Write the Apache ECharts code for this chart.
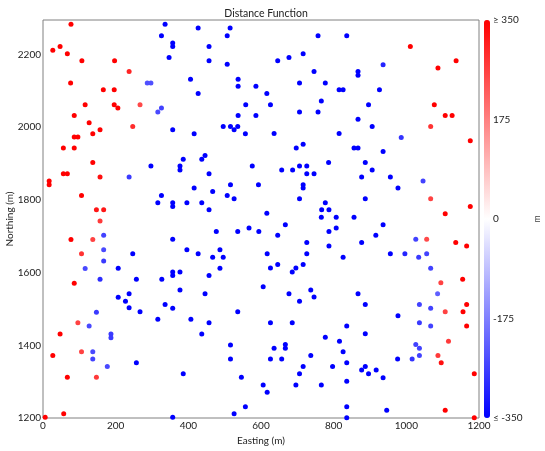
<!DOCTYPE html>
<html>
<head>
<meta charset="utf-8">
<script src="https://cdn.jsdelivr.net/npm/echarts@6/dist/echarts.min.js"></script>
<style>
  html, body { margin: 0; padding: 0; background: #fff; }
  #chart { width: 545px; height: 451px; }
</style>
</head>
<body>
<div id="chart"></div>
<script>
// sample locations (m) and distance function value (m)
const easting = [
  77, 27, 47, 67, 107, 197, 237, 76, 166, 196, 116, 196, 206, 267, 86, 127, 137, 157, 247, 86,
  96, 56, 86, 137, 56, 67, 157, 17, 17, 106, 147, 167, 157, 77, 137, 106, 86, 96, 47, 27,
  106, 67, 147, 57, 6,
  287, 297, 326, 316, 237, 167, 167, 167, 116, 157, 147, 127, 187, 187, 137, 137, 177,
  1011, 1137, 1087, 1077, 1107, 1126, 1067, 1176, 1067, 1176, 1107, 1056, 1136, 1166, 1095, 1155, 1107, 1166, 1156, 1166,
  1116, 1087, 1096, 1187, 1107, 1187,
  936, 986, 1046, 1026, 996, 1056, 1034, 1067, 1086, 1036, 1067, 1036, 1067, 1016, 1026, 1036, 1036,
  336, 427, 515, 326, 507, 357, 357, 457, 347, 457, 507, 406, 537, 427, 537, 586, 558, 537, 586, 357,
  416, 496, 516, 526, 536, 557, 386, 437, 446, 297, 377, 377, 457, 576, 416, 467, 516, 593, 507, 526,
  326, 316, 357, 357, 396, 437, 457,
  477, 536, 567, 594, 357, 396, 427, 467, 487, 496, 487, 247, 207, 257, 327, 357, 357, 377, 457, 377,
  446, 207, 227, 237, 237, 267, 336, 357, 316, 407, 457, 536, 437, 516, 516, 257, 386, 546, 557, 526,
  357,
  757, 836, 716, 646, 677, 746, 867, 867, 706, 777, 616, 815, 826, 926, 626, 766, 896, 706, 757, 867,
  906, 636, 815, 697, 716, 856, 867, 936, 786, 887, 657, 687, 706, 726, 726, 746, 906, 877, 956, 716,
  716, 977, 706, 887, 777, 767, 787, 616,
  766, 807, 856, 667, 936, 646, 787, 807, 916, 726, 787, 877, 617, 726, 826, 956, 626, 646, 686, 696,
  716, 606, 677, 737, 746, 706, 867, 887, 626, 686, 836, 977, 777, 887, 816, 667, 667, 636, 826, 737,
  626, 657, 836, 716, 797, 887, 877, 896, 917, 936, 706, 836, 976, 606, 617, 696, 766, 836, 836, 946
];
const northing = [
  2283, 2212, 2222, 2202, 2183, 2183, 2153, 2122, 2103, 2103, 2062, 2062, 2053, 2062, 2032, 2012, 1982, 1993, 2002, 1973,
  1973, 1943, 1943, 1903, 1872, 1872, 1863, 1852, 1842, 1812, 1773, 1773, 1742, 1691, 1691, 1652, 1571, 1462, 1431, 1372,
  1382, 1312, 1312, 1212, 1202,
  2122, 2122, 2053, 2042, 1863, 1703, 1663, 1632, 1611, 1582, 1491, 1453, 1431, 1421, 1382, 1362, 1342,
  2222, 2183, 2163, 2062, 2032, 2032, 2002, 1963, 1803, 1782, 1762, 1692, 1683, 1673, 1572, 1582, 1492, 1512, 1492, 1453,
  1411, 1372, 1352, 1322, 1221, 1201,
  2172, 1972, 1852, 1692, 1652, 1652, 1642, 1612, 1542, 1512, 1502, 1462, 1453, 1362, 1402, 1392, 1372,
  2283, 2273, 2273, 2252, 2252, 2232, 2222, 2222, 2192, 2183, 2173, 2132, 2132, 2093, 2113, 2113, 2062, 2032, 2032, 1993,
  1982, 2002, 2002, 1993, 2002, 1982, 1912, 1912, 1922, 1893, 1893, 1882, 1872, 1893, 1833, 1823, 1842, 1842, 1812, 1803,
  1812, 1792, 1792, 1782, 1792, 1792, 1773,
  1713, 1713, 1723, 1713, 1692, 1663, 1652, 1642, 1663, 1642, 1612, 1652, 1612, 1582, 1582, 1602, 1592, 1602, 1592, 1552,
  1542, 1532, 1521, 1542, 1503, 1492, 1512, 1502, 1472, 1472, 1462, 1492, 1431, 1401, 1362, 1352, 1322, 1312, 1231, 1212,
  1202,
  2252, 2252, 2202, 2183, 2192, 2153, 2153, 2143, 2122, 2122, 2093, 2103, 2103, 2103, 2062, 2072, 2062, 2042, 2042, 2022,
  2002, 1983, 1983, 1943, 1953, 1943, 1943, 1933, 1903, 1903, 1882, 1882, 1893, 1893, 1872, 1872, 1882, 1863, 1863, 1842,
  1833, 1833, 1803, 1803, 1792, 1773, 1773, 1763,
  1752, 1752, 1752, 1732, 1732, 1703, 1713, 1723, 1703, 1683, 1673, 1683, 1652, 1652, 1642, 1652, 1613, 1622, 1602, 1613,
  1622, 1561, 1542, 1552, 1533, 1521, 1542, 1512, 1462, 1462, 1453, 1481, 1422, 1432, 1411, 1402, 1392, 1392, 1382, 1372,
  1362, 1362, 1352, 1342, 1342, 1342, 1332, 1322, 1332, 1311, 1322, 1301, 1362, 1291, 1271, 1291, 1291, 1231, 1201, 1221
];
const distance = [
  400, 400, 400, 400, 400, 400, 300, 400, 400, 400, 400, 400, 400, 250, 400, 400, 400, 400, 290, 400,
  400, 400, 400, 400, 400, 400, 330, 400, 400, 400, 320, 320, 270, 400, 260, 280, 400, 260, 400, 400,
  260, 400, 270, 400, 400,
  -240, -240, -260, -250, -270, -260, -250, -270, -250, -290, -270, -250, -270, -270, -250, -260, -250,
  400, 400, 400, 400, 400, 400, 280, 400, 260, 400, 400, 250, 400, 400, 260, 400, 260, 400, 400, 400,
  270, 270, 330, 400, 400, 400,
  -300, -280, -260, -260, -300, -260, -270, -260, -220, -260, -260, -270, -260, -280, -260, -260, -260,
  -400, -400, -400, -400, -400, -400, -400, -400, -400, -400, -400, -400, -400, -400, -400, -400, -400, -400, -400, -400,
  -400, -400, -400, -400, -400, -400, -400, -400, -400, -400, -400, -400, -400, -400, -400, -400, -400, -400, -400, -400,
  -400, -400, -400, -400, -400, -400, -400,
  -400, -400, -400, -400, -400, -400, -400, -400, -400, -400, -400, -400, -400, -400, -400, -400, -400, -400, -400, -400,
  -400, -400, -400, -400, -400, -400, -400, -400, -400, -400, -400, -400, -400, -400, -400, -400, -400, -400, -400, -400,
  -400,
  -400, -400, -400, -400, -400, -400, -400, -400, -400, -400, -400, -400, -400, -400, -400, -400, -400, -400, -400, -400,
  -400, -400, -400, -400, -400, -400, -400, -400, -400, -400, -400, -400, -400, -400, -400, -400, -400, -400, -400, -400,
  -400, -400, -400, -400, -400, -400, -400, -400,
  -400, -400, -400, -400, -400, -400, -400, -400, -400, -400, -400, -400, -400, -400, -400, -400, -400, -400, -400, -400,
  -400, -400, -400, -400, -400, -400, -400, -400, -400, -400, -400, -400, -400, -400, -400, -400, -400, -400, -400, -400,
  -400, -400, -400, -400, -400, -400, -400, -400, -400, -400, -400, -400, -400, -400, -400, -400, -400, -400, -400, -400
];

const xTicks = { min: 0, max: 1200, step: 200 };
const yTicks = { min: 1200, max: 2295, step: 200 };
const cbarTicks = { min: -350, max: 350, step: 175 };

const font = 'Lato, "Open Sans", sans-serif';
const points = easting.map((e, i) => [e, northing[i], distance[i]]);

const chart = echarts.init(document.getElementById('chart'));
chart.setOption({
  backgroundColor: '#fff',
  animation: false,
  title: {
    text: 'Distance Function',
    left: 261, top: 3, textAlign: 'center',
    textStyle: { fontFamily: font, fontSize: 10.5, fontWeight: 'normal', color: '#222' }
  },
  grid: [
    { left: 43, top: 20, width: 436, height: 398, show: true, borderColor: '#808080', borderWidth: 1,
      backgroundColor: '#fff', containLabel: false, outerBoundsMode: 'none' },
    { left: 484, top: 20, width: 6, height: 398, containLabel: false, outerBoundsMode: 'none' }
  ],
  xAxis: [
    {
      gridIndex: 0, type: 'value', min: xTicks.min, max: xTicks.max, interval: xTicks.step,
      name: 'Easting (m)', nameLocation: 'middle', nameGap: 17,
      nameTextStyle: { fontFamily: font, fontSize: 10, color: '#222' },
      axisLine: { show: false }, axisTick: { show: false }, splitLine: { show: false },
      axisLabel: { fontFamily: font, fontSize: 10, color: '#222', margin: 3, formatter: v => String(v) }
    },
    { gridIndex: 1, type: 'value', show: false, min: 0, max: 1 }
  ],
  yAxis: [
    {
      gridIndex: 0, type: 'value', min: yTicks.min, max: yTicks.max, interval: yTicks.step,
      name: 'Northing (m)', nameLocation: 'middle', nameGap: 28, nameMoveOverlap: false,
      nameTextStyle: { fontFamily: font, fontSize: 10, color: '#222' },
      axisLine: { show: false }, axisTick: { show: false }, splitLine: { show: false },
      axisLabel: { fontFamily: font, fontSize: 10, color: '#222', margin: 2, showMaxLabel: false, formatter: v => String(v) }
    },
    {
      gridIndex: 1, type: 'value', position: 'right',
      min: cbarTicks.min, max: cbarTicks.max, interval: cbarTicks.step,
      name: 'm', nameLocation: 'middle', nameGap: 43,
      nameTextStyle: { fontFamily: font, fontSize: 9, color: '#444' },
      axisLine: { show: false }, axisTick: { show: false }, splitLine: { show: false },
      axisLabel: {
        fontFamily: font, fontSize: 10, color: '#222', margin: 3,
        formatter: v => v === cbarTicks.max ? '≥ 350' : v === cbarTicks.min ? '≤ -350' : String(v)
      }
    }
  ],
  visualMap: {
    type: 'continuous', dimension: 2, seriesIndex: 0,
    min: cbarTicks.min, max: cbarTicks.max,
    calculable: false, hoverLink: false, realtime: false,
    left: 484, top: 20, padding: 0,
    itemWidth: 6, itemHeight: 398,
    text: ['', ''], showLabel: false,
    inRange: { color: ['#0000ff', '#ffffff', '#ff0000'] }
  },
  series: [{
    type: 'scatter',
    xAxisIndex: 0, yAxisIndex: 0,
    symbolSize: 5,
    itemStyle: { opacity: 1 },
    data: points
  }]
});
</script>
</body>
</html>
